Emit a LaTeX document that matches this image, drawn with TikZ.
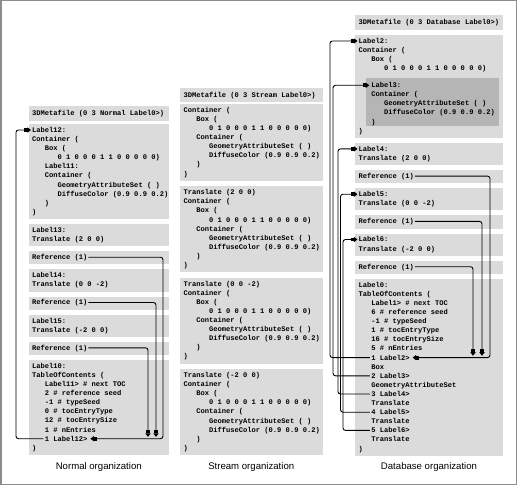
\documentclass[tikz,border=0pt]{standalone}
\usepackage{fontspec}
\setmainfont{Liberation Sans}
\newfontfamily\codefont{Liberation Mono}
\usetikzlibrary{arrows.meta}
\definecolor{boxgray}{gray}{0.86}
\definecolor{innergray}{gray}{0.71}
\definecolor{framegray}{gray}{0.55}
\newcommand\codebox[4]{%
  \foreach [count=\cnt] \ind/\txt in {#4} {%
    \node[code] (#1\cnt) at ({#2+\ind*12.78},{#3+2.4+(\cnt-1)*9.1}) {\txt};%
  }%
}
\begin{document}
\begin{tikzpicture}[x=1pt,y=-1pt,
  code/.style={font=\codefont\bfseries\fontsize{7.1}{9.1}\selectfont, anchor=base west,
    inner sep=0pt, outer sep=0pt, text height=4.8pt, text depth=0pt},
  caption/.style={font=\fontsize{9.6}{11}\selectfont, anchor=base, inner sep=0pt},
  panel/.style={fill=boxgray},
  conn/.style={line width=0.9pt, rounded corners=2.5pt},
  arr/.style={-{Rectangle[length=3pt,width=3.6pt,sep=0pt]Triangle[length=3.6pt,width=5.2pt,sep=0pt]}}]
\useasboundingbox (0,0) rectangle (518,486);
\draw[framegray, line width=1.5pt] (0.75,0.75) rectangle (516.25,484.25);

% ---------------- Normal organization ----------------
\fill[panel] (28.5,106.5) rectangle (169,121);
\fill[panel] (28.5,124) rectangle (169,219);
\fill[panel] (28.5,224) rectangle (169,246.2);
\fill[panel] (28.5,251.2) rectangle (169,264.3);
\fill[panel] (28.5,269.3) rectangle (169,291.5);
\fill[panel] (28.5,296.5) rectangle (169,309.6);
\fill[panel] (28.5,314.6) rectangle (169,336.8);
\fill[panel] (28.5,341.8) rectangle (169,354.9);
\fill[panel] (28.5,359.9) rectangle (169,454.9);
\codebox{lH}{32}{113.5}{0/{3DMetafile (0 3 Normal Label0>)}}
\codebox{lA}{32}{130}{0/{Label12:},0/{Container (},1/{Box (},2/{0 1 0 0 0 1 1 0 0 0 0 0)},1/{Label11:},1/{Container (},2/{GeometryAttributeSet ( )},2/{DiffuseColor (0.9 0.9 0.2)},1/{)},0/{)}}
\codebox{lB}{32}{230}{0/{Label13:},0/{Translate (2 0 0)}}
\codebox{lP}{32}{257.2}{0/{Reference (1)}}
\codebox{lC}{32}{275.3}{0/{Label14:},0/{Translate (0 0 -2)}}
\codebox{lQ}{32}{302.5}{0/{Reference (1)}}
\codebox{lD}{32}{320.6}{0/{Label15:},0/{Translate (-2 0 0)}}
\codebox{lS}{32}{347.8}{0/{Reference (1)}}
\codebox{lT}{32}{365.9}{0/{Label10:},0/{TableOfContents (},1/{Label11> \# next TOC},1/{2 \# reference seed},1/{-1 \# typeSeed},1/{0 \# tocEntryType},1/{12 \# tocEntrySize},1/{1 \# nEntries},1/{1 Label12>},0/{)}}
\node[caption] (capL) at (98.75,469.5) {Normal organization};

\draw[conn, arr, shorten <=1.5pt, shorten >=1pt] (lT9.west) -- (16,0 |- lT9.west) -- (16,0 |- lA1.west) -- (lA1.west);
\draw[conn, arr, shorten <=1pt, shorten >=3pt] (lP1.east) -- (163,0 |- lP1.east) -- (163,0 |- lT9.east) -- (lT9.east);
\draw[conn, arr, shorten <=1pt, shorten >=1.8pt] (lQ1.east) -- (156,0 |- lQ1.east) -- (156,0 |- lT9.east);
\draw[conn, arr, shorten <=1pt, shorten >=1.8pt] (lS1.east) -- (148,0 |- lS1.east) -- (148,0 |- lT9.east);

% ---------------- Stream organization ----------------
\fill[panel] (179.5,88) rectangle (323,102.5);
\fill[panel] (179.5,104) rectangle (323,180.8);
\fill[panel] (179.5,186.3) rectangle (323,272.2);
\fill[panel] (179.5,277.7) rectangle (323,363.6);
\fill[panel] (179.5,369.1) rectangle (323,455);
\codebox{sH}{183.5}{95}{0/{3DMetafile (0 3 Stream Label0>)}}
\codebox{sA}{183.5}{110}{0/{Container (},1/{Box (},2/{0 1 0 0 0 1 1 0 0 0 0 0)},1/{Container (},2/{GeometryAttributeSet ( )},2/{DiffuseColor (0.9 0.9 0.2)},1/{)},0/{)}}
\codebox{sB}{183.5}{192.3}{0/{Translate (2 0 0)},0/{Container (},1/{Box (},2/{0 1 0 0 0 1 1 0 0 0 0 0)},1/{Container (},2/{GeometryAttributeSet ( )},2/{DiffuseColor (0.9 0.9 0.2)},1/{)},0/{)}}
\codebox{sC}{183.5}{283.7}{0/{Translate (0 0 -2)},0/{Container (},1/{Box (},2/{0 1 0 0 0 1 1 0 0 0 0 0)},1/{Container (},2/{GeometryAttributeSet ( )},2/{DiffuseColor (0.9 0.9 0.2)},1/{)},0/{)}}
\codebox{sD}{183.5}{375.1}{0/{Translate (-2 0 0)},0/{Container (},1/{Box (},2/{0 1 0 0 0 1 1 0 0 0 0 0)},1/{Container (},2/{GeometryAttributeSet ( )},2/{DiffuseColor (0.9 0.9 0.2)},1/{)},0/{)}}
\node[caption] (capS) at (251.25,469.5) {Stream organization};

% ---------------- Database organization ----------------
\fill[panel] (355,15.5) rectangle (503,30);
\fill[panel] (355,35) rectangle (503,137.9);
\fill[innergray] (365.5,78.3) rectangle (499,126.2);
\fill[panel] (355,142.9) rectangle (503,165.1);
\fill[panel] (355,170.1) rectangle (503,183.2);
\fill[panel] (355,188.2) rectangle (503,210.4);
\fill[panel] (355,215.4) rectangle (503,228.5);
\fill[panel] (355,233.5) rectangle (503,255.7);
\fill[panel] (355,260.7) rectangle (503,273.8);
\fill[panel] (355,278.8) rectangle (503,455.7);
\codebox{dH}{358.5}{22.5}{0/{3DMetafile (0 3 Database Label0>)}}
\codebox{dA}{358.5}{41}{0/{Label2:},0/{Container (},1/{Box (},2/{0 1 0 0 0 1 1 0 0 0 0 0)}}
\codebox{dB}{358.5}{85.3}{1/{Label3:},1/{Container (},2/{GeometryAttributeSet ( )},2/{DiffuseColor (0.9 0.9 0.2)},1/{)},0/{)}}
\codebox{dC}{358.5}{148.9}{0/{Label4:},0/{Translate (2 0 0)}}
\codebox{dP}{358.5}{176.1}{0/{Reference (1)}}
\codebox{dE}{358.5}{194.2}{0/{Label5:},0/{Translate (0 0 -2)}}
\codebox{dQ}{358.5}{221.4}{0/{Reference (1)}}
\codebox{dG}{358.5}{239.5}{0/{Label6:},0/{Translate (-2 0 0)}}
\codebox{dS}{358.5}{266.7}{0/{Reference (1)}}
\codebox{dT}{358.5}{284.8}{0/{Label0:},0/{TableOfContents (},1/{Label1> \# next TOC},1/{6 \# reference seed},1/{-1 \# typeSeed},1/{1 \# tocEntryType},1/{16 \# tocEntrySize},1/{5 \# nEntries},1/{1 Label2>},1/{Box},1/{2 Label3>},1/{GeometryAttributeSet},1/{3 Label4>},1/{Translate},1/{4 Label5>},1/{Translate},1/{5 Label6>},1/{Translate},0/{)}}
\node[caption] (capD) at (429,469.5) {Database organization};

\draw[conn, arr, shorten <=1.5pt, shorten >=1pt] (dT9.west) -- (330,0 |- dT9.west) -- (330,0 |- dA1.west) -- (dA1.west);
\draw[conn, arr, shorten <=1.5pt, shorten >=2pt] (dT11.west) -- (333,0 |- dT11.west) -- (333,0 |- dB1.west) -- (dB1.west);
\draw[conn, arr, shorten <=1.5pt, shorten >=1pt] (dT13.west) -- (338,0 |- dT13.west) -- (338,0 |- dC1.west) -- (dC1.west);
\draw[conn, arr, shorten <=1.5pt, shorten >=1pt] (dT15.west) -- (340.5,0 |- dT15.west) -- (340.5,0 |- dE1.west) -- (dE1.west);
\draw[conn, arr, shorten <=1.5pt, shorten >=1pt] (dT17.west) -- (343,0 |- dT17.west) -- (343,0 |- dG1.west) -- (dG1.west);
\draw[conn, arr, shorten <=1pt, shorten >=3pt] (dP1.east) -- (490,0 |- dP1.east) -- (490,0 |- dT9.east) -- (dT9.east);
\draw[conn, arr, shorten <=1pt, shorten >=1.8pt] (dQ1.east) -- (482,0 |- dQ1.east) -- (482,0 |- dT9.east);
\draw[conn, arr, shorten <=1pt, shorten >=1.8pt] (dS1.east) -- (473,0 |- dS1.east) -- (473,0 |- dT9.east);
\end{tikzpicture}
\end{document}
